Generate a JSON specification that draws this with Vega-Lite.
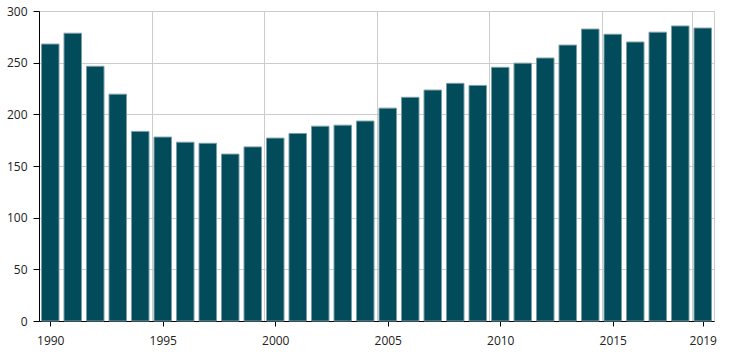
{
  "$schema": "https://vega.github.io/schema/vega-lite/v6.json",
  "width": 675,
  "height": 310,
  "autosize": {"type": "none"},
  "padding": {"left": 39, "top": 11, "right": 16, "bottom": 33},
  "background": "white",
  "config": {
    "font": "Open Sans",
    "view": {"stroke": "#cccccc", "strokeWidth": 1},
    "axis": {
      "labelFont": "Open Sans",
      "labelFontSize": 12,
      "labelColor": "#222222",
      "domainColor": "#000000",
      "tickColor": "#000000",
      "gridColor": "#cccccc",
      "gridOpacity": 1,
      "title": null
    }
  },
  "data": {
    "values": [
      {"year": 1990, "value": 268},
      {"year": 1991, "value": 278.5},
      {"year": 1992, "value": 246.5},
      {"year": 1993, "value": 219.5},
      {"year": 1994, "value": 183.5},
      {"year": 1995, "value": 178},
      {"year": 1996, "value": 173},
      {"year": 1997, "value": 172},
      {"year": 1998, "value": 161.5},
      {"year": 1999, "value": 168.5},
      {"year": 2000, "value": 177},
      {"year": 2001, "value": 181.5},
      {"year": 2002, "value": 188.5},
      {"year": 2003, "value": 189.5},
      {"year": 2004, "value": 193.5},
      {"year": 2005, "value": 206},
      {"year": 2006, "value": 216.5},
      {"year": 2007, "value": 223.5},
      {"year": 2008, "value": 230},
      {"year": 2009, "value": 228},
      {"year": 2010, "value": 245.5},
      {"year": 2011, "value": 249.5},
      {"year": 2012, "value": 254.5},
      {"year": 2013, "value": 267},
      {"year": 2014, "value": 282.5},
      {"year": 2015, "value": 277.5},
      {"year": 2016, "value": 270},
      {"year": 2017, "value": 279.5},
      {"year": 2018, "value": 285.5},
      {"year": 2019, "value": 283.5}
    ]
  },
  "resolve": {"axis": {"x": "independent"}},
  "layer": [
    {
      "mark": {"type": "bar", "width": 17.5, "opacity": 0},
      "encoding": {
        "x": {
          "field": "year",
          "type": "quantitative",
          "scale": {"domain": [1989.5, 2019.5], "nice": false, "zero": false, "padding": 0},
          "axis": {
            "orient": "top",
            "values": [1994.5, 1999.5, 2004.5, 2009.5, 2014.5, 2018.5],
            "grid": true,
            "labels": false,
            "ticks": false,
            "domain": false
          }
        },
        "y": {"field": "value", "type": "quantitative"}
      }
    },
    {
      "mark": {"type": "bar", "width": 17.5, "color": "#024b5b", "stroke": "#7a9ea7", "strokeWidth": 1},
      "encoding": {
        "x": {
          "field": "year",
          "type": "quantitative",
          "scale": {"domain": [1989.5, 2019.5], "nice": false, "zero": false, "padding": 0},
          "axis": {
            "orient": "bottom",
            "values": [1990, 1995, 2000, 2005, 2010, 2015, 2019],
            "format": "d",
            "grid": false,
            "tickSize": 5,
            "labelPadding": 9
          }
        },
        "y": {
          "field": "value",
          "type": "quantitative",
          "scale": {"domain": [0, 300], "nice": false, "padding": 0},
          "axis": {
            "values": [0, 50, 100, 150, 200, 250, 300],
            "grid": true,
            "tickSize": 6,
            "labelPadding": 6
          }
        }
      }
    }
  ]
}
